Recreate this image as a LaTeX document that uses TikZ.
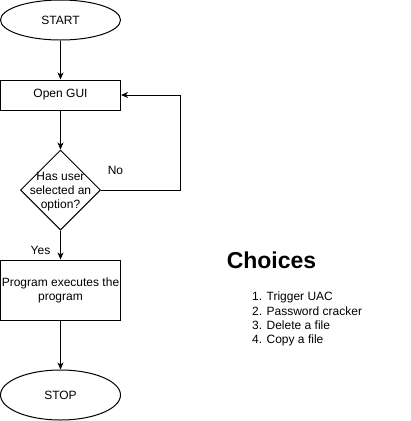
\documentclass[tikz,border=0pt]{standalone}
\usepackage{fontspec}
\setmainfont{Liberation Sans}
\usetikzlibrary{shapes.geometric,arrows.meta}
\begin{document}
\begin{tikzpicture}[x=1pt,y=-1pt,
  every node/.style={font=\fontsize{12}{14}\selectfont, inner sep=0pt},
  term/.style={draw, ellipse, line width=1pt, minimum width=120pt},
  proc/.style={draw, rectangle, line width=1pt, minimum width=120pt},
  dec/.style={draw, diamond, line width=1pt, minimum width=80pt, minimum height=80pt},
  conn/.style={line width=1pt, -{Stealth[length=7pt,width=6pt,inset=2pt]}},
]
\useasboundingbox (0,0) rectangle (411,421);
\node[term, minimum height=40pt] (start) at (60.5,20) {START};
\node[proc, minimum height=30pt] (gui) at (60.5,95) {Open GUI};
\node[dec] (dec) at (60.5,190) {};
\node[align=center] (dectext) at (60.5,191.5) {Has user\\selected an\\option?};
\node[proc, minimum height=60pt] (prog) at (60.5,290) {};
\node[align=center] (progtext) at (60.5,290) {Program executes the\\program};
\node[term, minimum height=50pt] (stop) at (60.5,395) {STOP};
\coordinate (nocorner) at (180.5,190);
\node (no) at (115.5,170) {No};
\node (yes) at (40.5,250) {Yes};
\node[font=\fontsize{23}{27}\selectfont\bfseries] (choices) at (271.5,260) {Choices};
\node[anchor=north west, align=left, font=\fontsize{12}{14.3}\selectfont] (list) at (252,292) {1. Trigger UAC\\2. Password cracker\\3. Delete a file\\4. Copy a file};
\draw[conn] (start) -- (gui);
\draw[conn] (gui) -- (dec);
\draw[conn] (dec) -- (prog);
\draw[conn] (prog) -- (stop);
\draw[conn] (dec.east) -- (nocorner) |- (gui.east);
\end{tikzpicture}
\end{document}
